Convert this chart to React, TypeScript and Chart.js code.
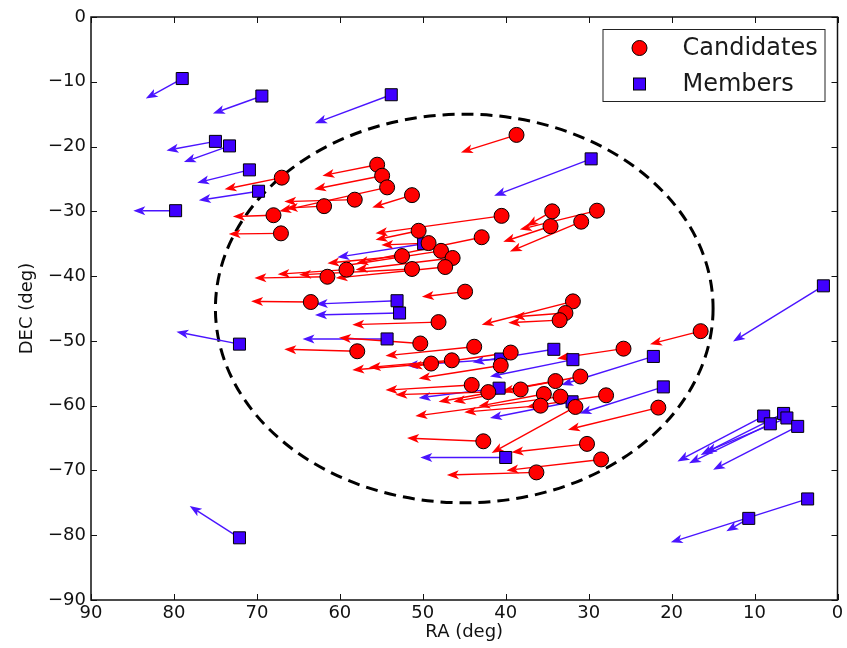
import React, { useEffect, useRef } from 'react';
import { Chart, registerables } from 'chart.js';

Chart.register(...registerables);

// ---- Data (degrees) ----
const candRA = [38.7, 67.0, 55.5, 54.9, 54.3, 58.2, 61.9, 51.3, 68.0, 67.1, 40.5, 50.5, 42.9, 49.3, 47.8, 46.4, 52.5, 47.3, 51.3, 59.2, 61.5, 44.9, 34.4, 34.6, 30.9, 29.0, 63.5, 48.1, 31.9, 32.8, 33.5, 16.5, 25.8, 50.3, 57.9, 43.8, 39.4, 40.6, 46.5, 49.0, 31.0, 34.0, 44.1, 42.1, 38.2, 35.4, 33.4, 35.8, 31.6, 27.9, 21.6, 42.7, 30.2, 28.5, 36.3];
const candDEC = [-18.2, -24.8, -22.8, -24.5, -26.3, -28.2, -29.2, -27.5, -30.6, -33.4, -30.7, -33.0, -34.0, -34.9, -36.1, -37.2, -36.9, -38.6, -38.9, -39.0, -40.1, -42.4, -30.0, -32.3, -31.6, -29.9, -44.0, -47.1, -43.9, -45.7, -46.8, -48.5, -51.2, -50.4, -51.6, -50.9, -51.8, -53.8, -53.0, -53.5, -55.5, -56.2, -56.8, -57.9, -57.5, -58.2, -58.6, -60.0, -60.2, -58.4, -60.3, -65.5, -65.9, -68.3, -70.3];
const candTipRA = [45.4, 73.9, 62.1, 63.1, 67.3, 66.7, 66.5, 56.1, 72.9, 73.4, 55.7, 55.7, 58.0, 55.0, 60.0, 58.1, 61.5, 60.5, 64.9, 67.5, 70.3, 50.1, 37.5, 40.3, 39.5, 38.3, 70.7, 58.5, 42.9, 39.1, 39.7, 22.6, 33.8, 60.1, 66.7, 54.5, 51.5, 50.5, 56.5, 58.5, 40.5, 48.1, 54.5, 53.3, 46.3, 43.3, 50.9, 45.0, 41.7, 37.5, 32.5, 51.9, 39.3, 39.9, 47.1];
const candTipDEC = [-20.9, -26.6, -24.5, -26.6, -30.0, -28.5, -29.5, -29.4, -30.8, -33.5, -33.4, -34.4, -38.0, -35.2, -38.5, -39.0, -38.0, -40.3, -39.8, -39.7, -40.3, -43.2, -32.3, -34.7, -36.2, -32.8, -43.9, -47.5, -47.5, -46.3, -47.2, -50.5, -52.7, -49.5, -51.3, -52.3, -54.0, -55.8, -54.1, -54.5, -57.8, -59.4, -57.6, -58.3, -59.4, -60.1, -61.6, -61.0, -67.3, -60.2, -63.7, -65.0, -67.2, -70.0, -70.7];

const memRA = [79.0, 69.4, 53.8, 75.0, 73.3, 70.9, 69.8, 79.8, 29.7, 49.9, 53.1, 52.8, 54.3, 72.1, 40.6, 34.2, 31.9, 22.2, 40.8, 32.0, 21.0, 40.0, 1.7, 8.9, 8.1, 6.5, 6.1, 4.8, 3.6, 10.7, 72.1];
const memDEC = [-9.5, -12.2, -12.0, -19.2, -19.9, -23.6, -26.9, -29.9, -21.9, -35.0, -43.8, -45.7, -49.7, -50.5, -52.8, -51.3, -52.9, -52.4, -57.3, -59.4, -57.1, -68.0, -41.5, -61.6, -62.8, -61.2, -61.9, -63.2, -74.4, -77.4, -80.4];
const memTipRA = [83.4, 75.3, 63.0, 80.9, 78.8, 77.2, 77.0, 84.9, 41.4, 60.3, 62.9, 63.0, 64.5, 79.7, 52.0, 44.0, 41.9, 33.3, 50.5, 41.9, 31.1, 50.3, 12.6, 19.3, 17.9, 16.5, 16.0, 15.0, 20.1, 13.4, 78.1];
const memTipDEC = [-12.6, -14.9, -16.4, -20.6, -22.4, -25.6, -28.3, -29.9, -27.6, -37.1, -44.3, -46.0, -49.7, -48.6, -53.8, -53.3, -55.5, -56.8, -58.8, -61.9, -61.2, -68.0, -50.1, -68.6, -68.9, -67.6, -67.2, -69.9, -81.1, -79.4, -75.5];

// Cluster region outline (dashed circle in RA/DEC)
const regionCenterRA = 45;
const regionCenterDEC = -45;
const regionRadius = 30;

const xTickValues = [90, 80, 70, 60, 50, 40, 30, 20, 10, 0];
const yTickValues = [0, -10, -20, -30, -40, -50, -60, -70, -80, -90];

const legendLabels = ['Candidates', 'Members'];

const FONT = "'DejaVu Sans', 'Liberation Sans', sans-serif";
const RED = '#ff0000';
const BLUE = '#4000ff';
const BLUE_ARROW = '#4a14ff';

function fmt(v: number) {
  return v < 0 ? '\u2212' + Math.abs(v) : String(v);
}

function drawArrow(ctx: CanvasRenderingContext2D, x0: number, y0: number, x1: number, y1: number, color: string) {
  const dx = x1 - x0, dy = y1 - y0;
  const len = Math.hypot(dx, dy);
  if (len < 1) return;
  const ux = dx / len, uy = dy / len;
  const headL = 12, headW = 4.5;
  const bx = x1 - ux * headL, by = y1 - uy * headL;
  ctx.strokeStyle = color;
  ctx.fillStyle = color;
  ctx.lineWidth = 1.4;
  ctx.setLineDash([]);
  ctx.beginPath();
  ctx.moveTo(x0, y0);
  ctx.lineTo(bx + ux * 3, by + uy * 3);
  ctx.stroke();
  ctx.beginPath();
  ctx.moveTo(x1, y1);
  ctx.lineTo(bx - uy * headW, by + ux * headW);
  ctx.lineTo(bx + ux * 3, by + uy * 3);
  ctx.lineTo(bx + uy * headW, by - ux * headW);
  ctx.closePath();
  ctx.fill();
}

const overlayPlugin = {
  id: 'overlay',
  beforeDatasetsDraw(chart: any) {
    const { ctx, chartArea, scales } = chart;
    const x = scales.x, y = scales.y;
    ctx.save();
    ctx.beginPath();
    ctx.rect(chartArea.left, chartArea.top, chartArea.right - chartArea.left, chartArea.bottom - chartArea.top);
    ctx.clip();
    const cx = x.getPixelForValue(regionCenterRA);
    const cy = y.getPixelForValue(regionCenterDEC);
    const rx = Math.abs(x.getPixelForValue(regionCenterRA + regionRadius) - cx);
    const ry = Math.abs(y.getPixelForValue(regionCenterDEC + regionRadius) - cy);
    ctx.strokeStyle = '#000';
    ctx.lineWidth = 3;
    ctx.setLineDash([12, 7]);
    ctx.beginPath();
    ctx.ellipse(cx, cy, rx, ry, 0, 0, Math.PI * 2);
    ctx.stroke();
    ctx.setLineDash([]);
    for (let i = 0; i < memRA.length; i++) {
      drawArrow(ctx, x.getPixelForValue(memRA[i]), y.getPixelForValue(memDEC[i]),
        x.getPixelForValue(memTipRA[i]), y.getPixelForValue(memTipDEC[i]), BLUE_ARROW);
    }
    for (let i = 0; i < candRA.length; i++) {
      drawArrow(ctx, x.getPixelForValue(candRA[i]), y.getPixelForValue(candDEC[i]),
        x.getPixelForValue(candTipRA[i]), y.getPixelForValue(candTipDEC[i]), RED);
    }
    ctx.restore();
  },
  afterDraw(chart: any) {
    const { ctx, chartArea, scales } = chart;
    const x = scales.x, y = scales.y;
    const { left, right, top, bottom } = chartArea;
    ctx.save();
    ctx.strokeStyle = '#111';
    ctx.lineWidth = 1;
    const tl = 6;
    ctx.beginPath();
    for (const v of xTickValues) {
      const px = Math.round(x.getPixelForValue(v)) + 0.5;
      ctx.moveTo(px, bottom); ctx.lineTo(px, bottom - tl);
      ctx.moveTo(px, top); ctx.lineTo(px, top + tl);
    }
    for (const v of yTickValues) {
      const py = Math.round(y.getPixelForValue(v)) + 0.5;
      ctx.moveTo(left, py); ctx.lineTo(left + tl, py);
      ctx.moveTo(right, py); ctx.lineTo(right - tl, py);
    }
    ctx.stroke();
    ctx.lineWidth = 1.5;
    ctx.strokeStyle = '#111';
    ctx.strokeRect(left, top, right - left, bottom - top);

    // legend
    const bw = 222, bh = 72;
    const bx = right - 13 - bw, by = top + 12;
    ctx.fillStyle = '#fff';
    ctx.fillRect(bx, by, bw, bh);
    ctx.lineWidth = 1;
    ctx.strokeStyle = '#222';
    ctx.strokeRect(bx + 0.5, by + 0.5, bw, bh);
    const mx = bx + 37;
    const y1 = by + 19, y2 = by + 55;
    ctx.beginPath();
    ctx.arc(mx, y1, 7.5, 0, Math.PI * 2);
    ctx.fillStyle = RED; ctx.fill();
    ctx.strokeStyle = '#000'; ctx.lineWidth = 1; ctx.stroke();
    ctx.fillStyle = BLUE;
    ctx.fillRect(mx - 6, y2 - 6, 12, 12);
    ctx.strokeRect(mx - 6, y2 - 6, 12, 12);
    ctx.fillStyle = '#1a1a1a';
    ctx.font = `24px ${FONT}`;
    ctx.textBaseline = 'middle';
    ctx.textAlign = 'left';
    ctx.fillText(legendLabels[0], bx + 80, y1 + 1);
    ctx.fillText(legendLabels[1], bx + 80, y2 + 1);
    ctx.restore();
  },
};

export default function App() {
  const ref = useRef<HTMLCanvasElement>(null);
  useEffect(() => {
    if (!ref.current) return;
    const chart = new Chart(ref.current, {
      type: 'scatter',
      data: {
        datasets: [
          {
            label: legendLabels[0],
            data: candRA.map((r, i) => ({ x: r, y: candDEC[i] })),
            pointStyle: 'circle',
            pointRadius: 7.5,
            pointHoverRadius: 7.5,
            backgroundColor: RED,
            borderColor: '#000',
            borderWidth: 1,
          },
          {
            label: legendLabels[1],
            data: memRA.map((r, i) => ({ x: r, y: memDEC[i] })),
            pointStyle: 'rect',
            pointRadius: 8.5,
            pointHoverRadius: 8.5,
            backgroundColor: BLUE,
            borderColor: '#000',
            borderWidth: 1,
          },
        ],
      },
      options: {
        responsive: false,
        animation: false,
        events: [],
        clip: false as any,
        layout: { padding: { left: 0, right: 6, top: 17, bottom: 0 } },
        plugins: { legend: { display: false }, tooltip: { enabled: false } },
        scales: {
          x: {
            type: 'linear',
            reverse: true,
            min: 0,
            max: 90,
            afterFit: (s: any) => { s.height = 48; },
            afterBuildTicks: (s: any) => { s.ticks = xTickValues.map((v) => ({ value: v })); },
            grid: { display: false, drawTicks: false },
            border: { display: false },
            ticks: { color: '#111', font: { family: FONT, size: 18 }, padding: 3, callback: (v: any) => fmt(Number(v)) },
            title: { display: true, text: 'RA (deg)', color: '#111', font: { family: FONT, size: 18 }, padding: { top: 0, bottom: 5 } },
          },
          y: {
            type: 'linear',
            min: -90,
            max: 0,
            afterFit: (s: any) => { s.width = 91; },
            afterBuildTicks: (s: any) => { s.ticks = yTickValues.map((v) => ({ value: v })); },
            grid: { display: false, drawTicks: false },
            border: { display: false },
            ticks: { color: '#111', font: { family: FONT, size: 18 }, padding: 5, callback: (v: any) => fmt(Number(v)) },
            title: { display: true, text: 'DEC (deg)', color: '#111', font: { family: FONT, size: 18 }, padding: { top: 17, bottom: 0 } },
          },
        },
      },
      plugins: [overlayPlugin],
    } as any);
    return () => chart.destroy();
  }, []);
  return (
    <div style={{ position: 'absolute', left: 0, top: 0, width: 847, height: 648, background: '#fff' }}>
      <canvas ref={ref} width={847} height={648} />
    </div>
  );
}
